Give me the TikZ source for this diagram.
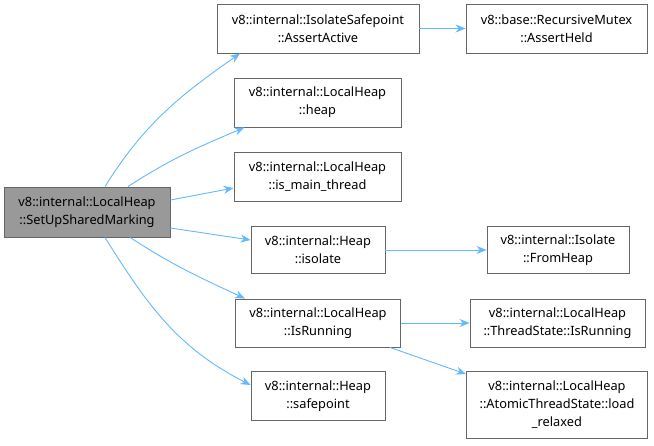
\documentclass[tikz,border=0pt]{standalone}
\usepackage{fontspec}
\setmainfont{Noto Sans}
\usepackage{tikz}
\usetikzlibrary{
  arrows.meta,
  positioning
}
\definecolor{edgeblue}{RGB}{99,184,255}
\definecolor{boxline}{RGB}{102,102,102}
\definecolor{rootfill}{RGB}{153,153,153}
\tikzset{
  fnbox/.style={
    draw=boxline,
    fill=white,
    line width=0.9pt,
    align=center,
    inner sep=0pt,
    font=\fontsize{12.8}{18}\selectfont
  },
  rootbox/.style={ fnbox, fill=rootfill },
  call/.style={
    -{Stealth[length=10pt,width=8pt]},
    line width=0.9pt,
    draw=edgeblue
  }
}

\begin{document}
\begin{tikzpicture}[x=1pt, y=1pt]
  \useasboundingbox (0,0) rectangle (654,-445);
  \node[rootbox, minimum width=166pt, minimum height=50pt] (root) at (87,-212) {v8::internal::LocalHeap\\::SetUpSharedMarking};
  \node[fnbox, minimum width=202pt, minimum height=49pt] (active) at (318,-28.5) {v8::internal::IsolateSafepoint\\::AssertActive};
  \node[fnbox, minimum width=181pt, minimum height=49pt] (held) at (556.5,-28.5) {v8::base::RecursiveMutex\\::AssertHeld};
  \node[fnbox, minimum width=167pt, minimum height=49pt] (heap) at (317.5,-102.5) {v8::internal::LocalHeap\\::heap};
  \node[fnbox, minimum width=167pt, minimum height=49pt] (mainthread) at (317.5,-176.5) {v8::internal::LocalHeap\\::is\_main\_thread};
  \node[fnbox, minimum width=134pt, minimum height=47pt] (isolate) at (318,-250) {v8::internal::Heap\\::isolate};
  \node[fnbox, minimum width=142pt, minimum height=47pt] (fromheap) at (558,-250) {v8::internal::Isolate\\::FromHeap};
  \node[fnbox, minimum width=165pt, minimum height=48pt] (running) at (318,-323) {v8::internal::LocalHeap\\::IsRunning};
  \node[fnbox, minimum width=175pt, minimum height=48pt] (tsrunning) at (557.5,-323) {v8::internal::LocalHeap\\::ThreadState::IsRunning};
  \node[fnbox, minimum width=134pt, minimum height=49pt] (safepoint) at (318,-396) {v8::internal::Heap\\::safepoint};
  \node[fnbox, minimum width=181pt, minimum height=67pt] (loadrelaxed) at (557,-405) {v8::internal::LocalHeap\\::AtomicThreadState::load\\\_relaxed};
  % calls from the root
  \draw[call] ([xshift=18pt]root.north) to[out=58, in=215] ([xshift=-78pt]active.south);
  \draw[call] ([xshift=41pt]root.north) to[out=33, in=203] ([xshift=-73pt]heap.south);
  \draw[call] ([yshift=12pt]root.east) -- ([yshift=-11.5pt]mainthread.west);
  \draw[call] ([yshift=-16pt]root.east) -- ([yshift=10pt]isolate.west);
  \draw[call] ([xshift=43pt]root.south) to[out=-33, in=155] ([xshift=-73pt]running.north);
  \draw[call] ([xshift=18pt]root.south) to[out=-58, in=153] ([yshift=11pt]safepoint.west);
  % second level
  \draw[call] (active) -- (held);
  \draw[call] (isolate) -- (fromheap);
  \draw[call] (running) -- (tsrunning);
  \draw[call] ([xshift=72pt]running.south) -- ([yshift=-3pt]loadrelaxed.north west);
\end{tikzpicture}
\end{document}
